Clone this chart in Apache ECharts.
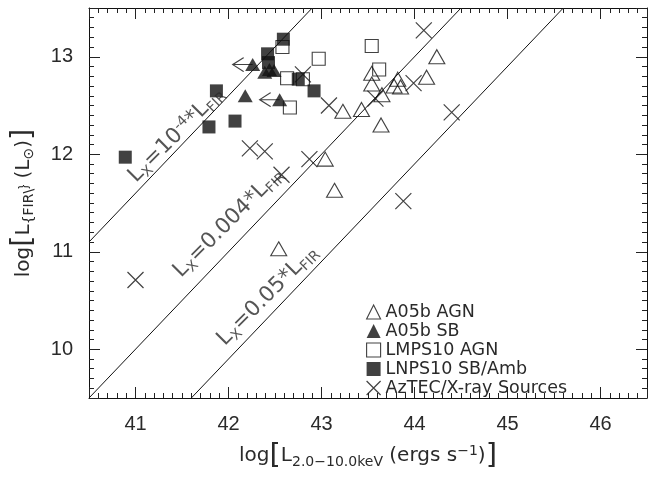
<!DOCTYPE html>
<html><head><meta charset="utf-8">
<script src="https://cdn.jsdelivr.net/npm/echarts@6/dist/echarts.min.js"></script>
<style>html,body{margin:0;padding:0;background:#fff}#c{width:661px;height:477px}</style>
</head><body><div id="c"></div>
<script>
// ---- data (log Lx [erg/s], log LFIR [Lsun]) ----
const xRange = [40.5, 46.5];
const yRange = [9.5, 13.5];
const a05bAGN = [[43.23,12.44],[43.04,11.95],[43.14,11.63],[42.54,11.03],[44.24,13.00],[43.54,12.83],[43.54,12.72],[44.13,12.79],[43.82,12.77],[43.85,12.69],[43.78,12.70],[43.65,12.61],[43.43,12.46],[43.64,12.30]];
const a05bSB = [[42.26,12.92],[42.44,12.87],[42.39,12.84],[42.49,12.86],[42.18,12.60],[42.55,12.56]];
const lmps10AGN = [[42.58,13.10],[42.63,12.78],[42.80,12.77],[42.97,12.98],[42.66,12.48],[43.54,13.11],[43.62,12.87]];
const lnps10SB = [[42.59,13.18],[42.42,13.03],[42.43,12.94],[42.75,12.77],[42.92,12.65],[41.87,12.65],[42.07,12.34],[41.79,12.28],[40.89,11.97]];
const aztecX = [[44.10,13.27],[42.80,12.82],[43.08,12.50],[43.99,12.73],[43.58,12.57],[44.40,12.43],[42.23,12.06],[42.39,12.03],[42.87,11.95],[42.57,11.79],[43.88,11.52],[41.00,10.71]];
const upperLimits = [[42.26,12.92],[42.55,12.56]];
const ratioLine1 = [[40.5,11.1],[42.9,13.5]];
const ratioLine2 = [[40.5,9.5],[44.5,13.5]];
const ratioLine3 = [[41.6,9.5],[45.6,13.5]];
const lineLabelPos = [[41.44,12.20],[42.00,11.30],[42.42,10.55]];
const lineLabelText = ['{b|L}{s|X}{b|=10}{p|-4}{b|*L}{s|FIR}','{b|L}{s|X}{b|=0.004*L}{s|FIR}','{b|L}{s|X}{b|=0.05*L}{s|FIR}'];
const legendNames = ['A05b AGN','A05b SB','LMPS10 AGN','LNPS10 SB/Amb','AzTEC/X-ray Sources'];
const yTicks = [10,11,12,13];
const xTicks = [41,42,43,44,45,46];

const FONT = 'Liberation Sans';
const TFONT = 'DejaVu Sans';
const TXT = '#2a2a2a';
const crossPath = 'path://M0,0L10,10M10,0L0,10';
const arrowPath = 'path://M0,7.5L20,7.5M11,0L0,7.5L11,15';

const chart = echarts.init(document.getElementById('c'), null, {renderer:'canvas'});

function tickFmt(list){ return v => (list.indexOf(Math.round(v*1000)/1000) >= 0 ? String(Math.round(v)) : ''); }

const axisCommon = {
  axisLine:{show:true, onZero:false, lineStyle:{color:'#111', width:1}},
  axisTick:{show:true, inside:true, length:11, lineStyle:{color:'#222', width:1}},
  minorTick:{show:true, splitNumber:10, length:5, lineStyle:{color:'#222', width:1}},
  splitLine:{show:false}, minorSplitLine:{show:false}
};

function mkRich(base, sub, big){
  return {
    b:{fontSize:base, fontFamily:TFONT, color:TXT, lineHeight:32, verticalAlign:'middle'},
    s:{fontSize:sub, fontFamily:TFONT, color:TXT, lineHeight:sub, verticalAlign:'bottom', padding:[0,0,3,0]},
    p:{fontSize:sub, fontFamily:TFONT, color:TXT, lineHeight:sub, verticalAlign:'top', padding:[4,0,0,0]},
    k:{fontSize:big, fontFamily:TFONT, color:TXT, lineHeight:32, verticalAlign:'middle'}
  };
}
const titleRich = mkRich(20, 14, 29);
const labelRich = mkRich(21.5, 14, 21.5);

const option = {
  animation:false,
  backgroundColor:'#fff',
  grid:{left:89, right:14, top:8, bottom:72, containLabel:false},
  xAxis:[
    Object.assign({type:'value', min:xRange[0], max:xRange[1], splitNumber:6, position:'bottom',
      axisLabel:{show:true, margin:16, fontSize:20, fontFamily:FONT, color:TXT, formatter:tickFmt(xTicks), showMinLabel:true, showMaxLabel:true},
      name:'{b|log}{k|[}{b|L}{s|2.0−10.0keV}{b| (ergs s}{p|−1}{b|)}{k|]}', nameLocation:'middle', nameGap:42,
      nameTextStyle:{rich:titleRich}}, axisCommon),
    Object.assign({type:'value', min:xRange[0], max:xRange[1], splitNumber:6, position:'top', axisLabel:{show:false}}, axisCommon)
  ],
  yAxis:[
    Object.assign({type:'value', min:yRange[0], max:yRange[1], splitNumber:4, position:'left',
      axisLabel:{show:true, margin:16, fontSize:20, fontFamily:FONT, color:TXT, formatter:tickFmt(yTicks)},
      name:'{b|log}{k|[}{b|L}{s|{FIR\\}}{b| (L}{s|⊙}{b|)}{k|]}', nameLocation:'middle', nameGap:46, nameRotate:90,
      nameTextStyle:{rich:titleRich}}, axisCommon),
    Object.assign({type:'value', min:yRange[0], max:yRange[1], splitNumber:4, position:'right', axisLabel:{show:false}}, axisCommon)
  ],
  legend:{
    orient:'vertical', left:361, top:298, itemWidth:14, itemHeight:14, itemGap:1,
    textStyle:{fontSize:17.5, fontFamily:TFONT, color:TXT},
    selectedMode:false,
    data:[
      {name:legendNames[0], icon:'triangle', itemStyle:{color:'rgba(0,0,0,0)', borderColor:'#111', borderWidth:1.1}},
      {name:legendNames[1], icon:'triangle', itemStyle:{color:'#111', borderWidth:0}},
      {name:legendNames[2], icon:'rect', itemStyle:{color:'rgba(0,0,0,0)', borderColor:'#111', borderWidth:1.1}},
      {name:legendNames[3], icon:'rect', itemStyle:{color:'#111', borderWidth:0}},
      {name:legendNames[4], icon:crossPath, itemStyle:{color:'rgba(0,0,0,0)', borderColor:'#111', borderWidth:1.2}}
    ]
  },
  series:[
    {type:'line', data:ratioLine1, symbol:'none', silent:true, lineStyle:{color:'#111', width:1}, clip:true},
    {type:'line', data:ratioLine2, symbol:'none', silent:true, lineStyle:{color:'#111', width:1}, clip:true},
    {type:'line', data:ratioLine3, symbol:'none', silent:true, lineStyle:{color:'#111', width:1}, clip:true},
    {type:'scatter', name:'labels', silent:true, symbolSize:1, itemStyle:{color:'rgba(0,0,0,0)'},
      data:lineLabelPos.map((p,i)=>({value:p, label:{formatter:lineLabelText[i]}})),
      label:{show:true, position:'inside', rotate:45, rich:labelRich}},
    {type:'scatter', name:legendNames[0], data:a05bAGN, symbol:'triangle', symbolSize:[16,14],
      itemStyle:{color:'rgba(0,0,0,0)', borderColor:'#111', borderWidth:1.1}},
    {type:'scatter', name:legendNames[2], data:lmps10AGN, symbol:'rect', symbolSize:13,
      itemStyle:{color:'rgba(0,0,0,0)', borderColor:'#111', borderWidth:1.1}},
    {type:'scatter', name:legendNames[4], data:aztecX, symbol:crossPath, symbolSize:16,
      itemStyle:{color:'rgba(0,0,0,0)', borderColor:'#111', borderWidth:1.2}},
    {type:'scatter', name:'limits', data:upperLimits, symbol:arrowPath, symbolSize:[20,14], symbolOffset:[-10,0],
      itemStyle:{color:'rgba(0,0,0,0)', borderColor:'#111', borderWidth:1.2}},
    {type:'scatter', name:legendNames[1], data:a05bSB, symbol:'triangle', symbolSize:[15,13],
      itemStyle:{color:'#111'}},
    {type:'scatter', name:legendNames[3], data:lnps10SB, symbol:'rect', symbolSize:13,
      itemStyle:{color:'#111'}}
  ]
};
chart.setOption(option);
</script>
</body></html>
